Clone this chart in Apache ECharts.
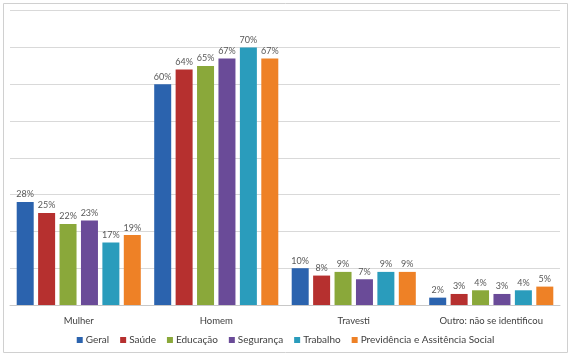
<!DOCTYPE html>
<html><head><meta charset="utf-8">
<script src="https://cdn.jsdelivr.net/npm/echarts@6/dist/echarts.min.js"></script>
<style>html,body{margin:0;padding:0;background:#fff}#c{width:571px;height:357px}</style>
</head><body><div id="c"></div>
<script>
const categories = ['Mulher', 'Homem', 'Travesti', 'Outro: não se identificou'];
const seriesNames = ['Geral', 'Saúde', 'Educação', 'Segurança', 'Trabalho', 'Previdência e Assitência Social'];
const geral = [28, 60, 10, 2];
const saude = [25, 64, 8, 3];
const educacao = [22, 65, 9, 4];
const seguranca = [23, 67, 7, 3];
const trabalho = [17, 70, 9, 4];
const previdencia = [19, 67, 9, 5];
const values = [geral, saude, educacao, seguranca, trabalho, previdencia];
const colors = ['#2b63ae', '#b6302f', '#8aa83a', '#6a4b98', '#2a9cbc', '#ee8126'];
const font = 'Lato';

const chart = echarts.init(document.getElementById('c'));
chart.setOption({
  animation: false,
  color: colors,
  graphic: [{type: 'rect', shape: {x: 3.5, y: 3.5, width: 564, height: 349}, style: {fill: 'none', stroke: '#d0d0d0', lineWidth: 1}}],
  grid: {left: 10, right: 11, top: 10.7, bottom: 52},
  legend: {
    bottom: 7, left: 'center', itemWidth: 6, itemHeight: 6, itemGap: 11, icon: 'rect',
    textStyle: {fontFamily: font, fontSize: 10, color: '#404040', padding: [0, 0, 0, -2]},
    data: seriesNames
  },
  xAxis: {
    type: 'category', data: categories,
    axisLine: {lineStyle: {color: '#c8c8c8'}}, axisTick: {show: false},
    axisLabel: {fontFamily: font, fontSize: 9.5, color: '#404040', margin: 11}
  },
  yAxis: {
    type: 'value', min: 0, max: 80, interval: 10,
    axisLabel: {show: false}, axisLine: {show: false}, axisTick: {show: false},
    splitLine: {lineStyle: {color: '#d9d9d9'}}
  },
  series: seriesNames.map((n, i) => ({
    name: n, type: 'bar', data: values[i], barWidth: 17, barGap: '26%',
    label: {show: true, position: 'top', distance: 3, formatter: '{c}%', fontFamily: font, fontSize: 9, color: '#595959'}
  }))
});
</script></body></html>
